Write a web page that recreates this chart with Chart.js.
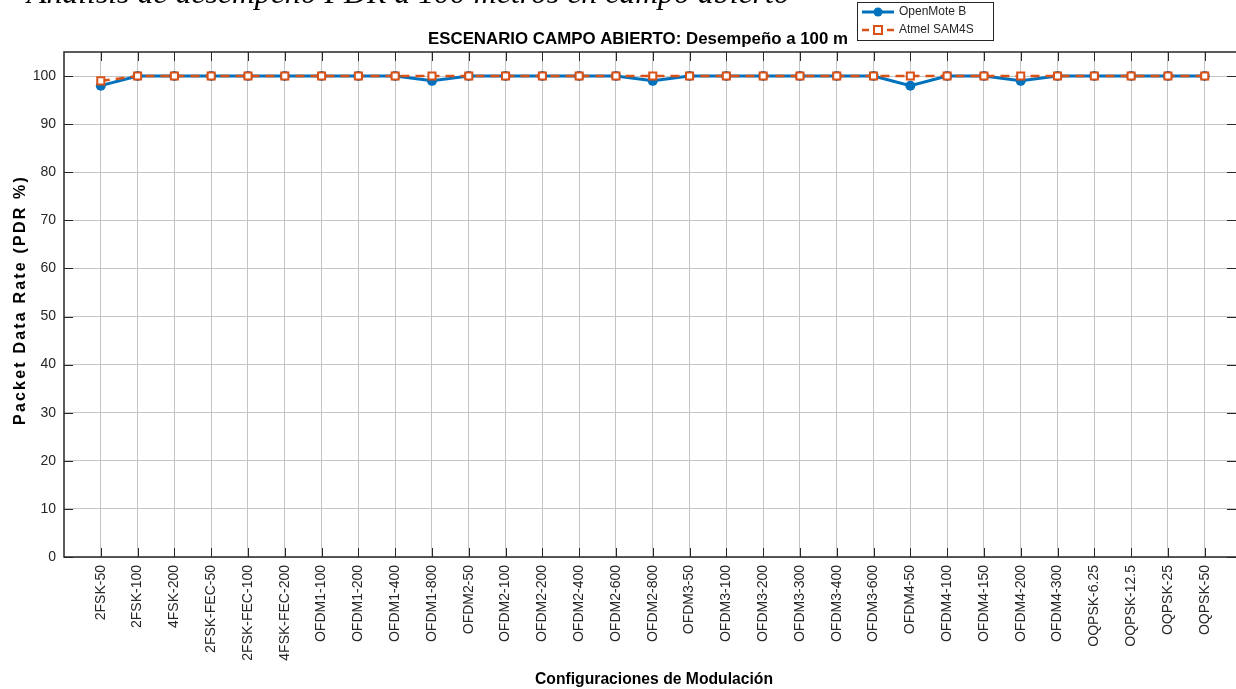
<!DOCTYPE html>
<html>
<head>
<meta charset="utf-8">
<script src="https://cdn.jsdelivr.net/npm/chart.js@4.4.1/dist/chart.umd.min.js"></script>
<style>
  html, body { margin: 0; padding: 0; background: #fff; }
  #wrap { width: 1236px; height: 689px; position: relative; }
</style>
</head>
<body>
<div id="wrap"><canvas id="pdrChart" width="1236" height="689"></canvas></div>
<script>
// categorias y valores
var configs = ['2FSK-50', '2FSK-100', '4FSK-200', '2FSK-FEC-50', '2FSK-FEC-100', '4FSK-FEC-200',
    'OFDM1-100', 'OFDM1-200', 'OFDM1-400', 'OFDM1-800', 'OFDM2-50', 'OFDM2-100', 'OFDM2-200',
    'OFDM2-400', 'OFDM2-600', 'OFDM2-800', 'OFDM3-50', 'OFDM3-100', 'OFDM3-200', 'OFDM3-300',
    'OFDM3-400', 'OFDM3-600', 'OFDM4-50', 'OFDM4-100', 'OFDM4-150', 'OFDM4-200', 'OFDM4-300',
    'OQPSK-6.25', 'OQPSK-12.5', 'OQPSK-25', 'OQPSK-50'];
var openMote = [98, 100, 100, 100, 100, 100, 100, 100, 100, 99, 100, 100, 100, 100, 100, 99,
    100, 100, 100, 100, 100, 100, 98, 100, 100, 99, 100, 100, 100, 100, 100];
var atmel = [99, 100, 100, 100, 100, 100, 100, 100, 100, 100, 100, 100, 100, 100, 100, 100,
    100, 100, 100, 100, 100, 100, 100, 100, 100, 100, 100, 100, 100, 100, 100];
var yTicks = [0, 10, 20, 30, 40, 50, 60, 70, 80, 90, 100];

var blue = '#0072BD';
var orange = '#D95319';

function toPoints(arr) {
    return arr.map(function (v, i) { return { x: i + 1, y: v }; });
}

// texto escalado a un ancho dado
function fitFont(ctx, text, style, family, width) {
    ctx.font = style + ' 20px ' + family;
    var w = ctx.measureText(text).width;
    return style + ' ' + (20 * width / w).toFixed(2) + 'px ' + family;
}

// espaciado entre letras para llegar a un ancho dado
function spaceTo(ctx, text, width) {
    ctx.letterSpacing = '0px';
    var w = ctx.measureText(text).width;
    ctx.letterSpacing = Math.max(0, (width - w) / text.length).toFixed(2) + 'px';
}

var decor = {
    id: 'decor',
    afterDraw: function (chart) {
        var ctx = chart.ctx;
        var a = chart.chartArea;
        var xs = chart.scales.x, ys = chart.scales.y;
        ctx.save();

        // marcas de tick hacia dentro
        ctx.strokeStyle = '#262626';
        ctx.lineWidth = 1;
        ctx.beginPath();
        for (var i = 1; i <= configs.length; i++) {
            var px = Math.round(xs.getPixelForValue(i)) + 0.5;
            ctx.moveTo(px, a.bottom); ctx.lineTo(px, a.bottom - 9);
            ctx.moveTo(px, a.top); ctx.lineTo(px, a.top + 9);
        }
        yTicks.forEach(function (t) {
            var py = Math.round(ys.getPixelForValue(t)) + 0.5;
            ctx.moveTo(a.left, py); ctx.lineTo(a.left + 9, py);
            ctx.moveTo(a.right, py); ctx.lineTo(a.right - 9, py);
        });
        ctx.stroke();

        // borde superior, izquierdo e inferior
        ctx.strokeStyle = '#262626';
        ctx.lineWidth = 1.5;
        ctx.beginPath();
        ctx.moveTo(a.right, a.top); ctx.lineTo(a.left, a.top);
        ctx.lineTo(a.left, a.bottom); ctx.lineTo(a.right, a.bottom);
        ctx.stroke();

        // texto cortado del documento
        ctx.fillStyle = '#000';
        ctx.textBaseline = 'alphabetic';
        ctx.textAlign = 'left';
        var top = 'Análisis de desempeño PDR a 100 metros en campo abierto';
        ctx.font = fitFont(ctx, top, 'italic', '"Liberation Serif", serif', 763);
        ctx.fillText(top, 27, 3);

        // titulo
        var title = 'ESCENARIO CAMPO ABIERTO: Desempeño a 100 m';
        ctx.font = fitFont(ctx, title, 'bold', '"Liberation Sans", Arial', 420);
        ctx.fillStyle = '#000';
        ctx.textAlign = 'left';
        ctx.textBaseline = 'alphabetic';
        ctx.fillText(title, 428, 44);

        // titulos de ejes
        var xt = 'Configuraciones de Modulación';
        ctx.font = fitFont(ctx, xt, 'bold', '"Liberation Sans", Arial', 238);
        ctx.textAlign = 'center';
        ctx.fillText(xt, 654, 684);

        var yt = 'Packet Data Rate (PDR %)';
        ctx.save();
        ctx.translate(25, 300);
        ctx.rotate(-Math.PI / 2);
        ctx.font = 'bold 16px "Liberation Sans", Arial';
        spaceTo(ctx, yt, 250);
        ctx.textAlign = 'center';
        ctx.fillText(yt, 0, 0);
        ctx.restore();
        ctx.letterSpacing = '0px';

        // leyenda
        var lx = 857, ly = 2, lw = 136, lh = 38;
        ctx.fillStyle = '#fff';
        ctx.fillRect(lx, ly, lw, lh);
        ctx.strokeStyle = '#262626';
        ctx.lineWidth = 1;
        ctx.strokeRect(lx + 0.5, ly + 0.5, lw, lh);

        ctx.strokeStyle = blue;
        ctx.lineWidth = 3;
        ctx.beginPath(); ctx.moveTo(862, 12); ctx.lineTo(894, 12); ctx.stroke();
        ctx.fillStyle = blue;
        ctx.beginPath(); ctx.arc(878, 12, 4.5, 0, Math.PI * 2); ctx.fill();

        ctx.strokeStyle = orange;
        ctx.lineWidth = 2.5;
        ctx.beginPath(); ctx.moveTo(862, 30); ctx.lineTo(869, 30);
        ctx.moveTo(887, 30); ctx.lineTo(894, 30); ctx.stroke();
        ctx.fillStyle = '#fff';
        ctx.lineWidth = 2;
        ctx.fillRect(874, 26, 8, 8);
        ctx.strokeRect(874, 26, 8, 8);

        ctx.fillStyle = '#262626';
        ctx.textAlign = 'left';
        ctx.textBaseline = 'middle';
        ctx.font = '12px "Liberation Sans", Arial';
        ctx.fillText('OpenMote B', 899, 12);
        ctx.fillText('Atmel SAM4S', 899, 30);

        ctx.restore();
    }
};

var ctx = document.getElementById('pdrChart');
var chart = new Chart(ctx, {
    type: 'line',
    plugins: [decor],
    data: {
        datasets: [
            {
                label: 'Atmel SAM4S',
                data: toPoints(atmel),
                borderColor: orange,
                backgroundColor: '#fff',
                borderWidth: 2.5,
                borderDash: [9, 6],
                pointStyle: 'rect',
                pointRadius: 5,
                pointBorderWidth: 2,
                pointBorderColor: orange,
                pointBackgroundColor: '#fff',
                order: 0,
            },
            {
                label: 'OpenMote B',
                data: toPoints(openMote),
                borderColor: blue,
                backgroundColor: blue,
                borderWidth: 3,
                pointStyle: 'circle',
                pointRadius: 5,
                pointBorderWidth: 0,
                pointBackgroundColor: blue,
                order: 1,
            },
        ]
    },
    options: {
        responsive: false,
        animation: false,
        layout: {
            autoPadding: false,
            padding: { top: 52, right: 0, left: 0, bottom: 0 },
        },
        plugins: {
            legend: { display: false },
            tooltip: { enabled: false },
            title: { display: false },
        },
        scales: {
            x: {
                type: 'linear',
                min: 0,
                max: 31.85,
                afterBuildTicks: function (scale) {
                    scale.ticks = configs.map(function (c, i) { return { value: i + 1 }; });
                },
                afterFit: function (scale) {
                    scale.height = 132;
                    scale.paddingLeft = 0;
                    scale.paddingRight = 0;
                },
                grid: {
                    color: '#c4c4c4',
                    lineWidth: 1,
                    drawTicks: false,
                },
                border: { display: false },
                ticks: {
                    autoSkip: false,
                    minRotation: 90,
                    maxRotation: 90,
                    padding: 8,
                    color: '#262626',
                    font: { family: '"Liberation Sans", Arial', size: 14 },
                    callback: function (v) { return configs[v - 1]; },
                },
            },
            y: {
                min: 0,
                max: 105,
                afterBuildTicks: function (scale) {
                    scale.ticks = yTicks.map(function (t) { return { value: t }; });
                },
                afterFit: function (scale) {
                    scale.width = 64;
                    scale.paddingTop = 0;
                    scale.paddingBottom = 0;
                },
                grid: {
                    color: '#c4c4c4',
                    lineWidth: 1,
                    drawTicks: false,
                },
                border: { display: false },
                ticks: {
                    padding: 8,
                    color: '#262626',
                    font: { family: '"Liberation Sans", Arial', size: 14 },
                },
            },
        },
    },
});
</script>
</body>
</html>
